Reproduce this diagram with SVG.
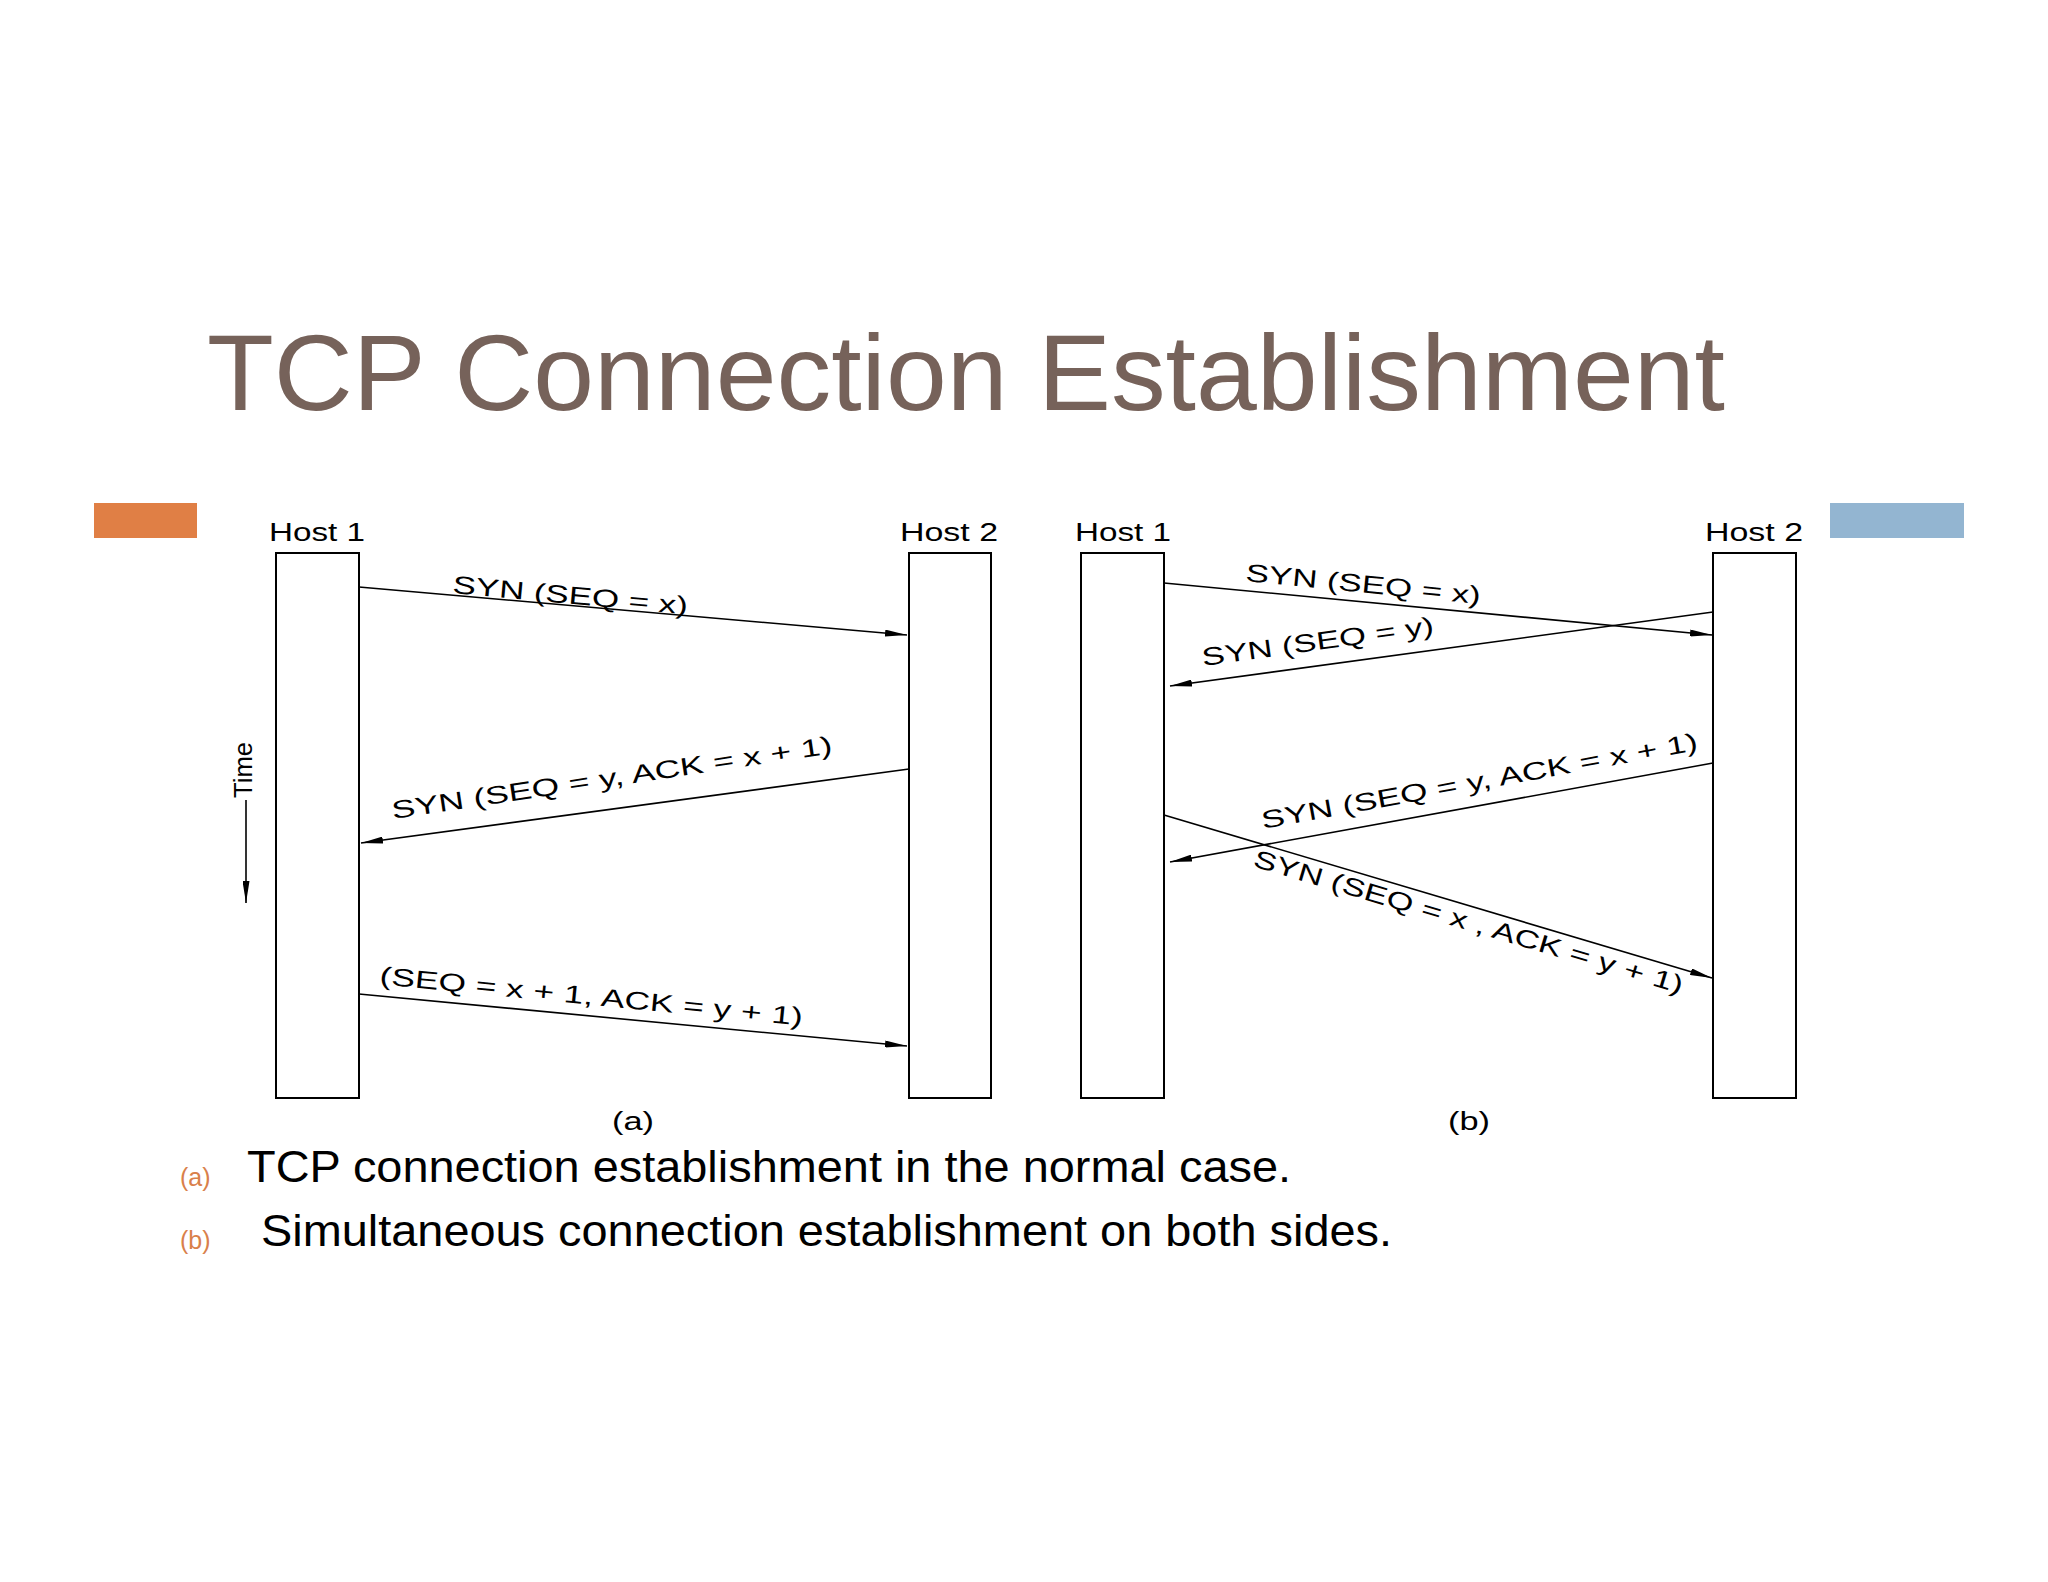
<svg xmlns="http://www.w3.org/2000/svg" width="2048" height="1582" viewBox="0 0 2048 1582">
<style>
.box{fill:#fff;stroke:#000;stroke-width:2}
.ln{stroke:#000;stroke-width:1.6;fill:none;marker-end:url(#ah)}
.t{font-family:"Liberation Sans",Arial,sans-serif;font-size:25px;fill:#000}
.h{font-family:"Liberation Sans",Arial,sans-serif;font-size:25px;fill:#000}
.cap{font-family:"Liberation Sans",Arial,sans-serif;font-size:45px;fill:#000}
.lbl{font-family:"Liberation Sans",Arial,sans-serif;font-size:25px;fill:#d9804a}
</style>
<defs>
<marker id="ah" markerWidth="22" markerHeight="7" refX="22" refY="3.5" orient="auto" markerUnits="userSpaceOnUse">
<path d="M0,0 L22,3.5 L0,7 Z" fill="#000"/>
</marker>
</defs>
<rect width="2048" height="1582" fill="#fff"/>
<text x="207" y="410" font-family="'Liberation Sans',Arial,sans-serif" font-size="108" fill="#76625a" textLength="1518" lengthAdjust="spacingAndGlyphs">TCP Connection Establishment</text>
<rect x="94" y="503" width="103" height="35" fill="#e07f45"/>
<rect x="1830" y="503" width="134" height="35" fill="#93b5d1"/>
<g id="a-host1"><text class="h" x="269" y="541" textLength="96" lengthAdjust="spacingAndGlyphs">Host 1</text><rect class="box" x="276" y="553" width="83" height="545"/></g>
<g id="a-host2"><text class="h" x="900" y="541" textLength="98" lengthAdjust="spacingAndGlyphs">Host 2</text><rect class="box" x="909" y="553" width="82" height="545"/></g>
<g id="b-host1"><text class="h" x="1075" y="541" textLength="96" lengthAdjust="spacingAndGlyphs">Host 1</text><rect class="box" x="1081" y="553" width="83" height="545"/></g>
<g id="b-host2"><text class="h" x="1705" y="541" textLength="98" lengthAdjust="spacingAndGlyphs">Host 2</text><rect class="box" x="1713" y="553" width="83" height="545"/></g>
<g id="connectors">
<line class="ln" x1="359" y1="587" x2="907" y2="635"/>
<line class="ln" x1="909" y1="769" x2="361" y2="843"/>
<line class="ln" x1="359" y1="994" x2="907" y2="1046"/>
<line class="ln" x1="1164" y1="583" x2="1712" y2="635"/>
<line class="ln" x1="1713" y1="612" x2="1170" y2="686"/>
<line class="ln" x1="1713" y1="763" x2="1170" y2="862"/>
<line class="ln" x1="1164" y1="815" x2="1712" y2="978"/>
<line x1="246" y1="800" x2="246" y2="903" stroke="#000" stroke-width="1.6" marker-end="url(#ah)"/>
</g>
<g id="labels">
<text class="t" transform="translate(452,593) rotate(5.2)" textLength="236" lengthAdjust="spacingAndGlyphs">SYN (SEQ = x)</text>
<text class="t" transform="translate(393,819) rotate(-8.5)" textLength="445" lengthAdjust="spacingAndGlyphs">SYN (SEQ = y, ACK = x + 1)</text>
<text class="t" transform="translate(379,984) rotate(5.6)" textLength="425" lengthAdjust="spacingAndGlyphs">(SEQ = x + 1, ACK = y + 1)</text>
<text class="t" transform="translate(1245,581) rotate(5.6)" textLength="236" lengthAdjust="spacingAndGlyphs">SYN (SEQ = x)</text>
<text class="t" transform="translate(1203,666) rotate(-7.9)" textLength="234" lengthAdjust="spacingAndGlyphs">SYN (SEQ = y)</text>
<text class="t" transform="translate(1263,829) rotate(-10.3)" textLength="443" lengthAdjust="spacingAndGlyphs">SYN (SEQ = y, ACK = x + 1)</text>
<text class="t" transform="translate(1252,866) rotate(16.6)" textLength="447" lengthAdjust="spacingAndGlyphs">SYN (SEQ = x , ACK = y + 1)</text>
<text class="t" transform="translate(252,798) rotate(-90)" textLength="56" lengthAdjust="spacingAndGlyphs">Time</text>
<text class="t" x="612" y="1130" textLength="42" lengthAdjust="spacingAndGlyphs">(a)</text>
<text class="t" x="1448" y="1130" textLength="42" lengthAdjust="spacingAndGlyphs">(b)</text>
</g>
<text class="lbl" x="180" y="1186">(a)</text>
<text class="cap" x="247" y="1182" textLength="1044" lengthAdjust="spacingAndGlyphs">TCP connection establishment in the normal case.</text>
<text class="lbl" x="180" y="1249">(b)</text>
<text class="cap" x="261" y="1246" textLength="1131" lengthAdjust="spacingAndGlyphs">Simultaneous connection establishment on both sides.</text>
</svg>
